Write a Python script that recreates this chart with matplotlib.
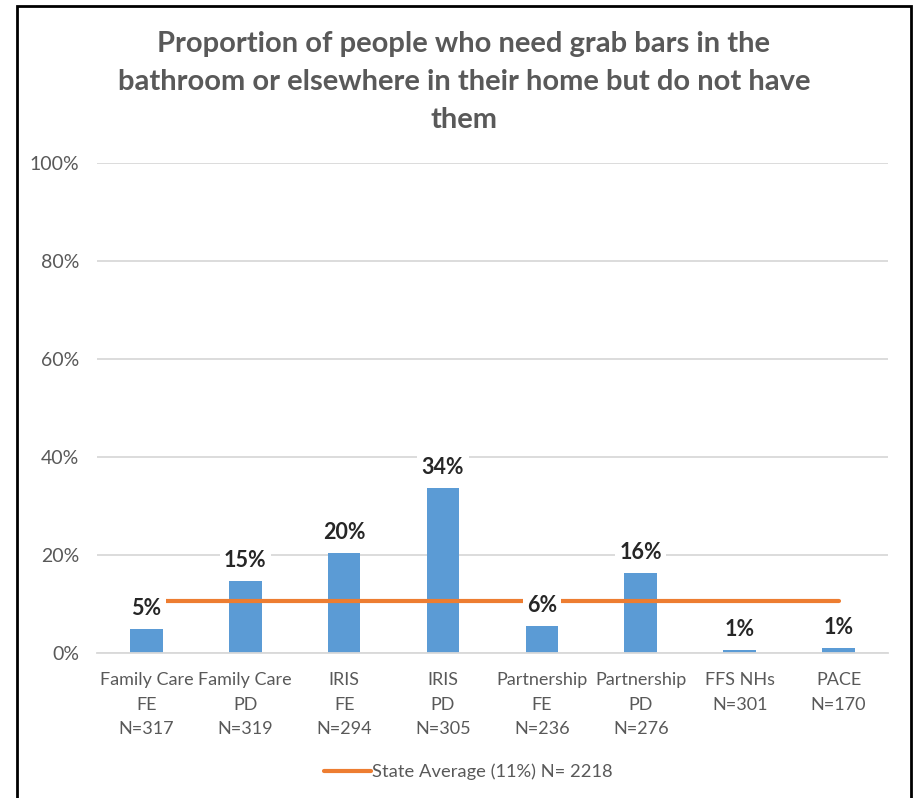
import matplotlib
matplotlib.use("Agg")
import matplotlib.pyplot as plt
from matplotlib.patches import Rectangle
from matplotlib.lines import Line2D

plt.rcParams['font.family'] = ['Lato', 'DejaVu Sans']

# datos del grafico
programas = ["Family Care\nFE\nN=317", "Family Care\nPD\nN=319", "IRIS\nFE\nN=294", "IRIS\nPD\nN=305",
             "Partnership\nFE\nN=236", "Partnership\nPD\nN=276", "FFS NHs\nN=301", "PACE\nN=170"]
porcentajes = [4.9, 14.7, 20.4, 33.7, 5.5, 16.3, 0.6, 1.0]
promedio_estado = 10.7
n_estado = 2218

gris = "#595959"
azul = "#5B9BD5"
naranja = "#ED7D31"

fig = plt.figure(figsize=(9.13, 7.98), dpi=100)
ax = fig.add_axes([0.1062, 0.1817, 0.8664, 0.614])

x = list(range(len(programas)))
ax.bar(x, porcentajes, width=0.33, color=azul, zorder=2)
ax.plot(x, [promedio_estado] * len(x), color=naranja, lw=3, solid_capstyle="round", zorder=3)

# etiquetas de cada barra con fondo blanco (tapan la linea naranja)
for xi, v in zip(x, porcentajes):
    ax.annotate(f"{v:.0f}%", (xi, v), xytext=(0, 14.5), textcoords="offset points",
                ha="center", va="center", fontsize=15.5, fontweight="bold", color="#262626",
                bbox=dict(boxstyle="square,pad=0.2", fc="white", ec="none"), zorder=4)

ax.set_xlim(-0.5, len(x) - 0.5)
ax.set_ylim(0, 100)
ax.set_yticks(range(0, 101, 20))
ax.set_yticklabels([f"{t}%" for t in range(0, 101, 20)])
ax.set_xticks(x)
ax.set_xticklabels(programas, linespacing=1.62)
ax.tick_params(axis="both", length=0, labelcolor=gris)
ax.tick_params(axis="x", pad=14, labelsize=13)
ax.tick_params(axis="y", pad=13, labelsize=14)
ax.grid(axis="y", color="#D9D9D9", lw=1.3, zorder=0)
for lado in ["top", "right", "left"]:
    ax.spines[lado].set_visible(False)
ax.spines["bottom"].set_color("#D9D9D9")
ax.spines["bottom"].set_linewidth(1.3)

fig.text(0.508, 0.897, "Proportion of people who need grab bars in the\nbathroom or elsewhere in their home but do not have\nthem",
         ha="center", va="center", fontsize=21, fontweight="bold", color=gris, linespacing=1.58)

# leyenda
fig.legend(handles=[Line2D([], [], color=naranja, lw=3, solid_capstyle="round")],
           labels=[f"State Average ({promedio_estado:.0f}%) N= {n_estado}"],
           loc="center", bbox_to_anchor=(0.513, 0.0325), frameon=False, fontsize=13.2,
           labelcolor=gris, handlelength=2.55, handletextpad=0.1)

# marco negro alrededor
fig.patches.append(Rectangle((0.0186, -0.01), 0.979, 1.003, transform=fig.transFigure,
                             fill=False, ec="black", lw=2, zorder=10))

fig.savefig("out.png", dpi=100)
